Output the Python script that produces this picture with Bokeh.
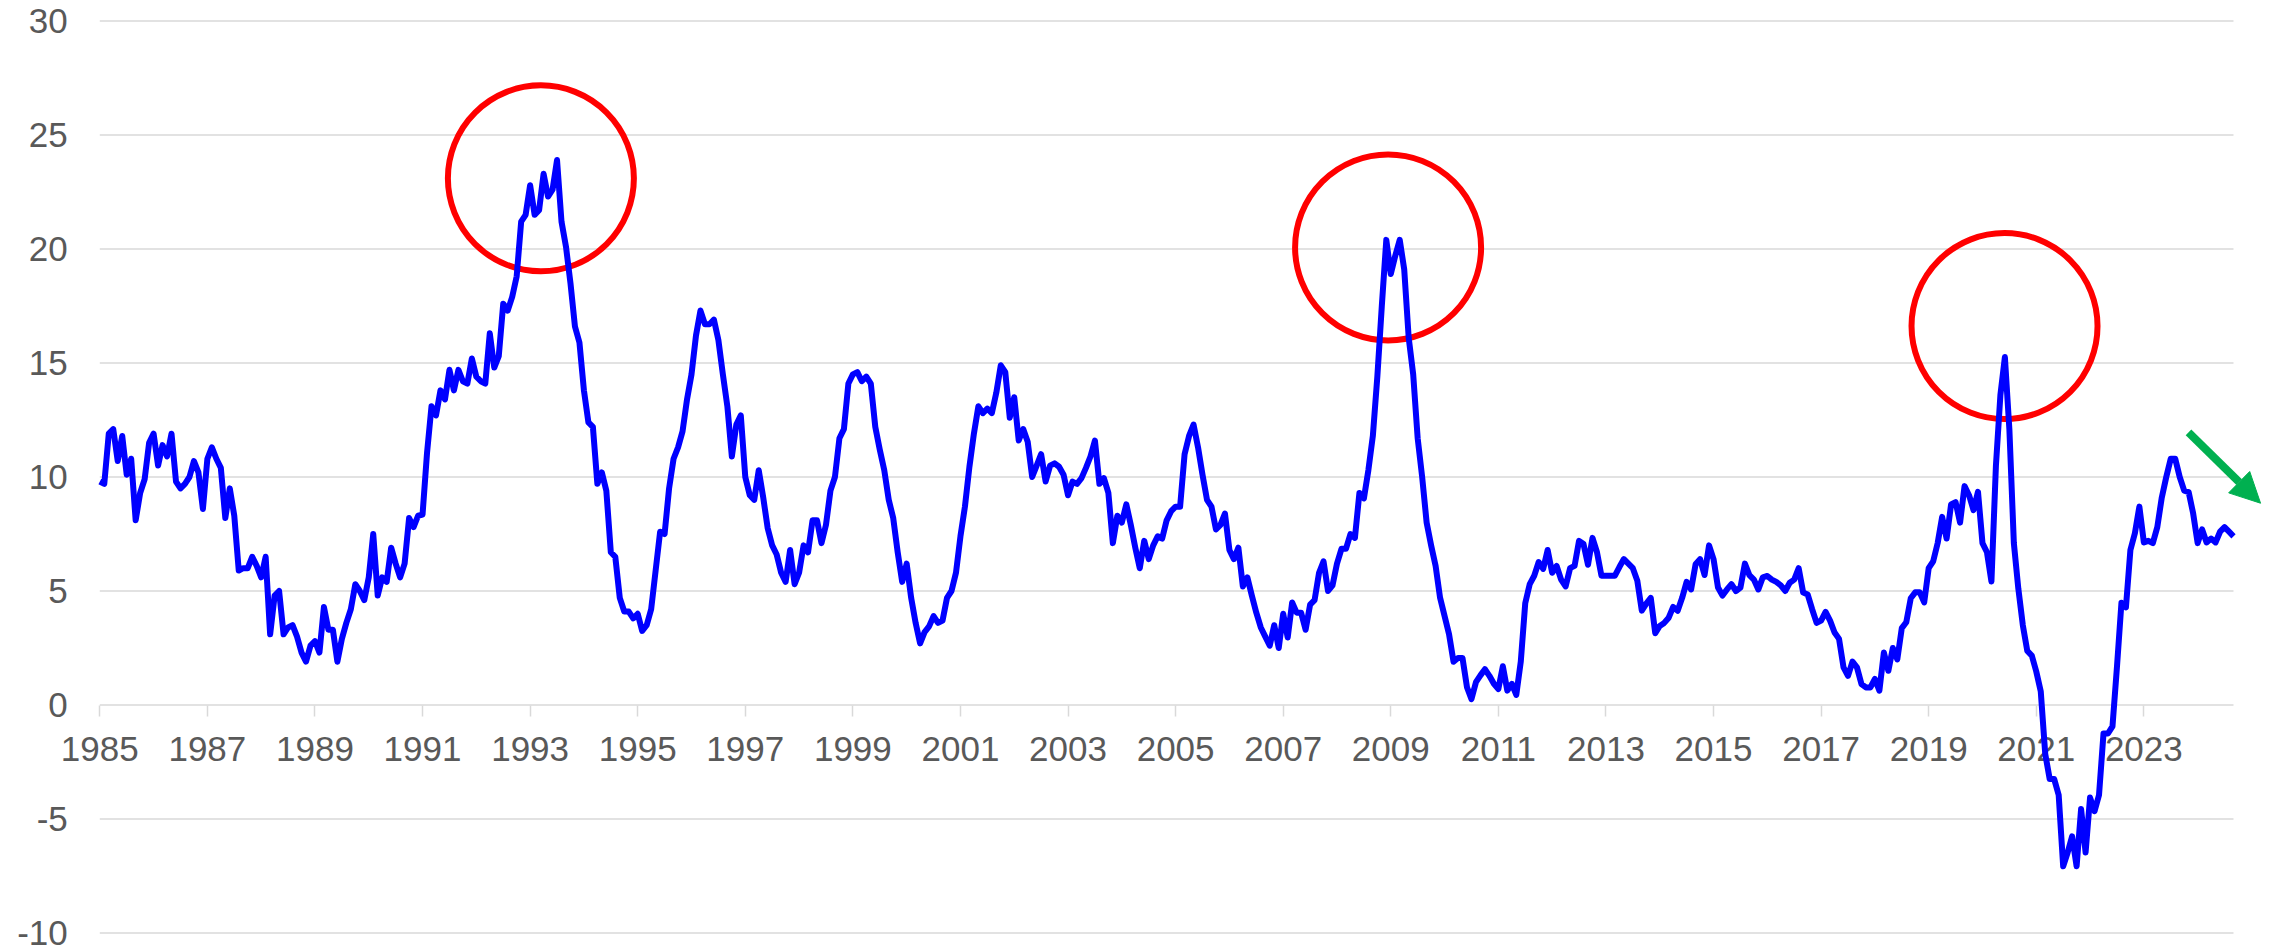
from bokeh.plotting import figure
from bokeh.models import Range1d, FixedTicker, Arrow, NormalHead, ColumnDataSource
from bokeh.embed import file_html
from bokeh.resources import INLINE

# ---------------- data (monthly, Jan 1985 - Sep 2024) ----------------
start_year = 1985
values = [
    # 1985
    9.8, 9.7, 11.9, 12.1, 10.7, 11.8, 10.1, 10.8, 8.1, 9.3, 9.9, 11.5,
    # 1986
    11.9, 10.5, 11.4, 10.9, 11.9, 9.8, 9.5, 9.7, 10.0, 10.7, 10.2, 8.6,
    # 1987
    10.8, 11.3, 10.8, 10.4, 8.2, 9.5, 8.3, 5.9, 6.0, 6.0, 6.5, 6.1,
    # 1988
    5.6, 6.5, 3.1, 4.8, 5.0, 3.1, 3.4, 3.5, 3.0, 2.3, 1.9, 2.6,
    # 1989
    2.8, 2.3, 4.3, 3.3, 3.3, 1.9, 2.9, 3.6, 4.2, 5.3, 5.0, 4.6,
    # 1990
    5.6, 7.5, 4.8, 5.6, 5.4, 6.9, 6.2, 5.6, 6.2, 8.2, 7.8, 8.3,
    # 1991
    8.35, 11.05, 13.1, 12.7, 13.8, 13.4, 14.7, 13.8, 14.7, 14.2, 14.1, 15.2,
    # 1992
    14.4, 14.2, 14.1, 16.3, 14.8, 15.3, 17.6, 17.3, 17.9, 18.8, 21.2, 21.5,
    # 1993
    22.8, 21.5, 21.7, 23.3, 22.3, 22.6, 23.9, 21.2, 20.1, 18.5, 16.6, 15.9,
    # 1994
    13.8, 12.4, 12.2, 9.7, 10.2, 9.4, 6.7, 6.5, 4.7, 4.1, 4.1, 3.8,
    # 1995
    4.0, 3.25, 3.5, 4.2, 5.9, 7.6, 7.5, 9.5, 10.8, 11.3, 12.0, 13.4,
    # 1996
    14.5, 16.2, 17.3, 16.7, 16.7, 16.9, 16.0, 14.5, 13.1, 10.9, 12.3, 12.7,
    # 1997
    10.0, 9.2, 9.0, 10.3, 9.1, 7.75, 7.0, 6.6, 5.8, 5.4, 6.8, 5.3,
    # 1998
    5.8, 7.0, 6.7, 8.1, 8.1, 7.1, 7.9, 9.4, 10.0, 11.7, 12.1, 14.1,
    # 1999
    14.5, 14.6, 14.2, 14.4, 14.1, 12.2, 11.2, 10.3, 9.0, 8.2, 6.7, 5.4,
    # 2000
    6.2, 4.7, 3.6, 2.7, 3.2, 3.45, 3.9, 3.6, 3.7, 4.7, 5.0, 5.8,
    # 2001
    7.4, 8.7, 10.45, 11.9, 13.1, 12.8, 13.0, 12.8, 13.7, 14.9, 14.6, 12.6,
    # 2002
    13.5, 11.6, 12.1, 11.55, 10.0, 10.5, 11.0, 9.8, 10.5, 10.6, 10.45, 10.1,
    # 2003
    9.2, 9.8, 9.7, 9.95, 10.4, 10.9, 11.6, 9.7, 9.95, 9.3, 7.1, 8.3,
    # 2004
    8.0, 8.8, 7.9, 6.9, 6.0, 7.2, 6.4, 7.0, 7.4, 7.3, 8.1, 8.5,
    # 2005
    8.7, 8.7, 11.0, 11.8, 12.3, 11.3, 10.1, 9.0, 8.7, 7.7, 7.9, 8.4,
    # 2006
    6.8, 6.4, 6.9, 5.2, 5.6, 4.8, 4.05, 3.4, 3.0, 2.6, 3.5, 2.5,
    # 2007
    4.0, 2.96, 4.5, 4.05, 4.05, 3.3, 4.4, 4.6, 5.8, 6.3, 5.0, 5.25,
    # 2008
    6.2, 6.85, 6.85, 7.5, 7.33, 9.3, 9.06, 10.3, 11.8, 14.4, 17.5, 20.4,
    # 2009
    18.9, 19.7, 20.4, 19.1, 16.1, 14.5, 11.7, 10.0, 8.0, 7.0, 6.1, 4.7,
    # 2010
    3.9, 3.1, 1.9, 2.06, 2.06, 0.78, 0.26, 1.0, 1.3, 1.57, 1.28, 0.93,
    # 2011
    0.7, 1.7, 0.63, 0.93, 0.44, 1.9, 4.47, 5.3, 5.67, 6.27, 5.97, 6.8,
    # 2012
    5.8, 6.1, 5.5, 5.2, 6.0, 6.1, 7.2, 7.06, 6.15, 7.33, 6.7, 5.67,
    # 2013
    5.67, 5.67, 5.67, 6.05, 6.4, 6.2, 6.0, 5.45, 4.14, 4.45, 4.7, 3.15,
    # 2014
    3.47, 3.6, 3.83, 4.3, 4.13, 4.7, 5.4, 5.07, 6.17, 6.4, 5.7, 7.0,
    # 2015
    6.4, 5.15, 4.8, 5.07, 5.3, 5.0, 5.15, 6.2, 5.7, 5.5, 5.07, 5.6,
    # 2016
    5.66, 5.5, 5.4, 5.25, 5.0, 5.36, 5.5, 6.0, 4.93, 4.85, 4.2, 3.6,
    # 2017
    3.7, 4.08, 3.7, 3.18, 2.9, 1.65, 1.28, 1.9, 1.65, 0.92, 0.77, 0.77,
    # 2018
    1.14, 0.63, 2.3, 1.5, 2.5, 2.0, 3.37, 3.63, 4.68, 4.94, 4.94, 4.5,
    # 2019
    6.0, 6.3, 7.1, 8.25, 7.3, 8.8, 8.9, 8.0, 9.6, 9.2, 8.55, 9.35,
    # 2020
    7.1, 6.7, 5.42, 10.5, 13.6, 15.26, 12.1, 7.1, 5.1, 3.5, 2.37, 2.17,
    # 2021
    1.47, 0.6, -2.15, -3.25, -3.25, -3.95, -7.07, -6.47, -5.76, -7.07, -4.56, -6.47,
    # 2022
    -4.06, -4.66, -3.95, -1.25, -1.25, -0.94, 1.67, 4.48, 4.28, 6.8, 7.53, 8.7,
    # 2023
    7.13, 7.2, 7.1, 7.8, 9.1, 10.0, 10.8, 10.8, 10.0, 9.4, 9.34, 8.4,
    # 2024
    7.1, 7.7, 7.13, 7.3, 7.13, 7.6, 7.8, 7.6, 7.4,
]
x_tick_years = list(range(1985, 2024, 2))
x_tick_labels = [str(y) for y in x_tick_years]
y_ticks = [-10, -5, 0, 5, 10, 15, 20, 25, 30]
y_tick_labels = ["-10", "-5", "0", "5", "10", "15", "20", "25", "30"]

# highlighted peaks (annotation circles): centre year, centre value
circle_years = [1993.2, 2008.95, 2020.41]
circle_vals = [23.1, 20.07, 16.62]

dates = [start_year + i / 12.0 for i in range(len(values))]
src = ColumnDataSource(data=dict(x=dates, y=values))

FONT = "Liberation Sans"
GRID = "#D9D9D9"
LABEL = "#595959"
FS = "35px"

# ---------------- layout (pixels) ----------------
W, H = 2275, 952
PLOT_L, PLOT_R = 99.3, 2233.0      # where the first / last month sit
PLOT_T, PLOT_B = 20.5, 932.5       # where 30 / -10 sit
sx = (PLOT_R - PLOT_L) / (dates[-1] - start_year)   # px per year
sy = (PLOT_B - PLOT_T) / 40.0                        # px per unit
x0 = start_year - PLOT_L / sx
x1 = x0 + W / sx
y1 = 30 + PLOT_T / sy
y0 = y1 - H / sy

p = figure(width=W, height=H, output_backend="svg", toolbar_location=None,
           x_range=Range1d(x0, x1), y_range=Range1d(y0, y1),
           min_border=0, min_border_left=0, min_border_right=0,
           min_border_top=0, min_border_bottom=0)
p.outline_line_color = None
p.background_fill_color = "white"
p.border_fill_color = "white"

# grid: horizontal lines only across the data span
p.xgrid.grid_line_color = None
p.ygrid.grid_line_color = None
p.segment(x0=[start_year] * len(y_ticks), x1=[dates[-1]] * len(y_ticks),
          y0=y_ticks, y1=y_ticks, line_color=GRID, line_width=1.5, level="underlay")

# y axis, pinned at the first month
yax = p.yaxis[0]
yax.fixed_location = start_year
yax.ticker = FixedTicker(ticks=y_ticks)
yax.major_label_overrides = {t: l for t, l in zip(y_ticks, y_tick_labels)}
yax.axis_line_color = None
yax.major_tick_line_color = None
yax.minor_tick_line_color = None
yax.major_tick_out = 0
yax.major_tick_in = 0
yax.major_label_standoff = 32
yax.major_label_text_font = FONT
yax.major_label_text_font_size = FS
yax.major_label_text_color = LABEL

# x axis, crossing at zero
xax = p.xaxis[0]
xax.fixed_location = 0
xax.ticker = FixedTicker(ticks=x_tick_years)
xax.major_label_overrides = {t: l for t, l in zip(x_tick_years, x_tick_labels)}
xax.axis_line_color = None
xax.major_tick_line_color = GRID
xax.major_tick_line_width = 1.5
xax.major_tick_out = 11
xax.major_tick_in = 0
xax.minor_tick_line_color = None
xax.major_label_standoff = 21
xax.major_label_text_font = FONT
xax.major_label_text_font_size = FS
xax.major_label_text_color = LABEL

# red circles (beneath the series line)
p.scatter(circle_years, circle_vals, marker="circle", size=186,
          fill_color=None, line_color="#FF0000", line_width=6, level="overlay")

# series
p.line("x", "y", source=src, line_color="#0000FF", line_width=6,
       line_join="round", level="overlay")

# green arrow
green = "#00B050"
p.add_layout(Arrow(end=NormalHead(size=30, fill_color=green, line_color=green, line_width=1),
                   x_start=2023.83, y_start=11.96, x_end=2025.17, y_end=8.85,
                   line_color=green, line_width=8))

open("out.html", "w").write(file_html(p, INLINE))
